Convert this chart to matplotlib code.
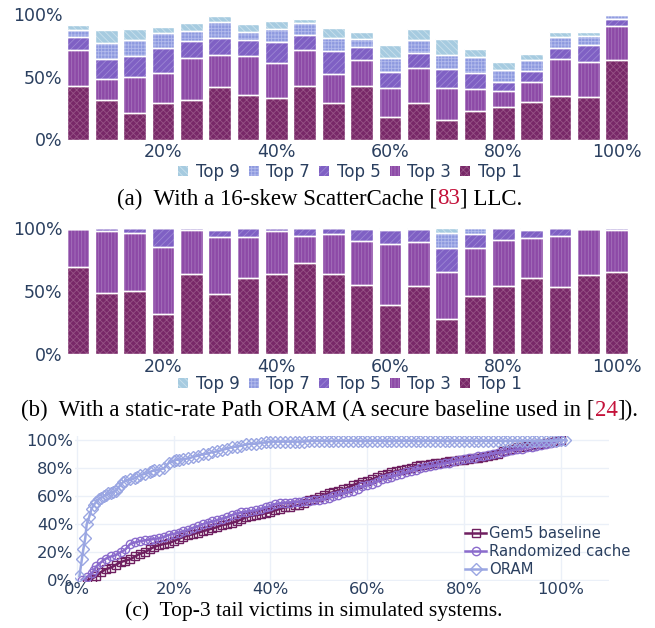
import numpy as np
import matplotlib
matplotlib.use("Agg")
import matplotlib.pyplot as plt
from matplotlib.patches import Patch

# ---------------- data ----------------
bar_x = [5, 10, 15, 20, 25, 30, 35, 40, 45, 50, 55, 60, 65, 70, 75, 80, 85, 90, 95, 100]
series_names = ["Top 1", "Top 3", "Top 5", "Top 7", "Top 9"]

# (a) ScatterCache, cumulative share covered by top-k victims (%)
a_top1 = [42.5, 31.1, 21.1, 29.0, 31.1, 41.4, 35.4, 33.2, 42.5, 29.0, 42.2, 17.7, 29.0, 15.6, 22.7, 25.6, 29.8, 34.6, 33.8, 63.0]
a_top3 = [70.7, 47.8, 49.6, 53.0, 64.4, 67.0, 66.0, 61.0, 71.0, 52.0, 63.0, 40.6, 56.5, 40.9, 39.8, 38.8, 45.6, 63.6, 61.5, 90.0]
a_top5 = [81.0, 63.9, 66.2, 73.0, 78.4, 80.5, 78.9, 77.3, 82.8, 70.4, 73.6, 53.3, 68.3, 55.9, 52.5, 45.4, 54.4, 72.3, 74.7, 95.3]
a_top7 = [87.0, 77.0, 78.6, 84.2, 86.3, 92.9, 85.0, 88.1, 92.6, 80.2, 79.4, 64.4, 78.9, 67.0, 65.2, 54.9, 63.0, 81.0, 82.3, 98.7]
a_top9 = [90.8, 87.0, 87.9, 89.4, 92.1, 98.4, 91.3, 94.2, 96.0, 88.7, 85.5, 74.7, 87.6, 79.7, 72.0, 61.2, 68.1, 85.0, 85.0, 98.8]

# (b) Path ORAM, cumulative share (%)
b_top1 = [69.3, 48.7, 50.0, 32.3, 63.5, 47.9, 60.6, 63.8, 72.2, 63.8, 54.8, 39.4, 54.2, 27.8, 46.3, 54.2, 60.3, 53.2, 63.2, 65.3]
b_top3 = [99.5, 97.9, 96.0, 85.2, 98.4, 93.1, 92.9, 97.9, 93.9, 95.2, 90.2, 87.3, 88.9, 65.3, 84.4, 90.5, 92.6, 93.7, 99.6, 98.4]
b_top5 = [99.5, 99.9, 99.9, 99.9, 99.9, 98.7, 99.9, 99.9, 99.9, 99.9, 99.6, 99.0, 99.3, 84.1, 95.5, 99.9, 98.7, 99.9, 99.7, 99.9]
b_top7 = [99.5, 100, 100, 100, 100, 99.6, 100, 100, 100, 100, 100, 99.7, 99.8, 96.0, 100, 100, 99.8, 100, 99.8, 100]
b_top9 = [99.5, 100, 100, 100, 100, 100, 100, 100, 100, 100, 100, 100, 100, 100, 100, 100, 100, 100, 100, 100]

# (c) Top-3 tail victims CDF (%)
gem5_x = list(range(2, 101))
gem5_y = [0, 1, 3, 6, 8, 9, 11, 13, 14, 15, 17, 19, 20, 22, 24, 25, 26, 26.5, 28, 29.5,
          31, 32, 33, 34, 35, 36, 37, 38, 39.5, 40, 41, 42, 43.5, 45, 46, 46.5, 47, 48, 48.5, 50,
          51, 52, 52.5, 53.5, 54, 55, 57, 58, 59.5, 61, 62, 63, 64, 65, 66, 68, 69, 70, 71, 72,
          73.5, 75, 76, 77, 78, 78.5, 79.5, 80.5, 81.5, 82, 82.5, 83, 83.5, 84, 84.5, 85, 85.5, 86, 86, 86.5,
          87, 87.5, 88, 88.5, 89.5, 90.5, 92, 93, 94, 95, 95.5, 96, 96.5, 97, 97, 98, 98.5, 99.5, 100]
rand_x = [1, 2, 3, 3.5] + list(range(4, 101))
rand_y = [0.5, 2, 5, 7, 10, 13, 15.5, 17, 18, 20, 22, 26, 27, 28, 28.5, 29, 29.5, 30, 31, 32.5,
          33, 34, 35, 36, 37.5, 38.5, 40, 41, 42, 43, 44, 45, 46.5, 47.5, 48.5, 49, 49.5, 50, 51, 52,
          53, 54.5, 55, 55.5, 55.5, 56, 56, 56.5, 56.5, 57, 57, 58, 59, 60, 61, 62, 63, 64, 65.5, 67,
          68, 69, 70.5, 72, 73, 74, 75, 76, 77, 78, 79, 80, 81, 81.5, 82, 83, 83.5, 84, 85, 86,
          86.5, 87, 87.5, 88.5, 89, 89.5, 90.5, 91, 91.5, 92, 93, 93.5, 94, 95, 95.5, 96, 96.5, 97, 98, 99, 100]
oram_x = [0.5, 1.0, 1.3, 1.7, 2.0, 2.5, 3.0, 3.5, 4.0, 4.5, 5.0, 5.5, 6.0, 6.5, 7.0, 7.5, 8.0, 8.5, 9.0, 9.5,
          10, 11, 12, 12.5, 13, 14, 15, 15.5, 16, 17, 18, 19, 20, 20.5, 21, 22, 23, 24, 25, 26,
          27, 28, 29, 30, 31, 32, 33, 34, 35, 36, 37, 38, 39, 40, 41, 42, 43, 44, 45, 46,
          47, 48, 49, 50, 51, 52, 53, 54, 55, 56, 57, 58, 59, 60, 61, 62, 63, 64, 65, 66,
          67, 68, 69, 70, 71, 72, 73, 74, 75, 76, 77, 78, 79, 80, 81, 82, 83, 84, 85, 86,
          87, 88, 89, 90, 91, 92, 93, 94, 95, 96, 97, 98, 99, 100, 101]
oram_y = [3, 15, 22, 30, 40, 45, 51, 54, 56, 58, 59, 60, 61, 62, 62.5, 63, 64, 66, 68, 70,
          71, 72, 73, 74, 75, 76, 77, 78, 78.5, 79, 80, 84, 85, 86, 86, 86.5, 87, 88, 89, 90,
          90.5, 91.5, 92, 93, 94, 95, 95.5, 96, 97, 97.5, 97.5, 98, 98.5, 99, 99, 99, 99, 99, 99, 99,
          99, 99.5, 99.5, 99.5, 99.5, 99.5, 99.5, 99.5, 99.5, 99.5, 99.5, 99.5, 99.5, 99.5, 99.5, 99.5, 99.5, 99.5, 99.5, 99.5,
          99.5, 99.5, 99.5, 99.5, 99.5, 99.5, 99.5, 99.5, 99.5, 99.5, 99.5, 99.5, 99.5, 99.5, 99.5, 99.5, 99.5, 99.5, 99.5, 99.5,
          99.5, 99.5, 99.5, 99.5, 99.5, 99.5, 99.5, 99.5, 99.5, 99.5, 99.5, 99.5, 99.5, 100, 100]

x_ticks = [20, 40, 60, 80, 100]
x_ticks_c = [0, 20, 40, 60, 80, 100]
y_ticks_ab = [0, 50, 100]
y_ticks_c = [0, 20, 40, 60, 80, 100]

# ---------------- style ----------------
W, H = 655, 628
TICK = "#2a3f5f"
face_cols = ["#782868", "#8d4aa7", "#7f60c4", "#8d99df", "#a6cbe0"]
hatch_cols = ["#965285", "#a674bc", "#9c86d3", "#b3bbec", "#c9e0ec"]
hatches = ["xxxxx", "|||||", "/////", "+++++", "\\\\\\\\\\"]
plt.rcParams["hatch.linewidth"] = 0.6
plt.rcParams["font.family"] = "DejaVu Sans"

fig = plt.figure(figsize=(W / 100, H / 100), dpi=100)


def px_axes(l, t, r, b):
    return fig.add_axes([l / W, 1 - b / H, (r - l) / W, (b - t) / H])


def pct(v):
    return f"{int(v)}%"


def bar_panel(ax, cum_series, legend_y):
    cum = np.array(cum_series, dtype=float)
    prev = np.zeros(len(bar_x))
    for i, name in enumerate(series_names):
        seg = np.clip(cum[i] - prev, 0, None)
        ax.bar(bar_x, seg, width=4, bottom=prev, color=face_cols[i], hatch=hatches[i],
               edgecolor=hatch_cols[i], linewidth=0, zorder=2)
        ax.bar(bar_x, seg, width=4, bottom=prev, fill=False, edgecolor="white",
               linewidth=1.0, zorder=3)
        prev = np.maximum(prev, cum[i])
    ax.set_xlim(2.5, 102.5)
    ax.set_ylim(0, 104)
    ax.set_xticks(x_ticks)
    ax.set_xticklabels([pct(v) for v in x_ticks])
    ax.set_yticks(y_ticks_ab)
    ax.set_yticklabels([pct(v) for v in y_ticks_ab])
    ax.tick_params(axis="both", length=0, labelsize=12.5, colors=TICK)
    ax.tick_params(axis="x", pad=2.5)
    ax.tick_params(axis="y", pad=1)
    for s in ax.spines.values():
        s.set_visible(False)
    handles = [Patch(facecolor=face_cols[i], hatch=hatches[i], edgecolor=hatch_cols[i],
                     linewidth=0, label=series_names[i]) for i in range(4, -1, -1)]
    fig.legend(handles=handles, loc="center", bbox_to_anchor=(350 / W, 1 - legend_y / H),
               ncol=5, frameon=False, fontsize=12, handlelength=0.6, handleheight=0.6,
               handletextpad=0.45, columnspacing=0.55, labelcolor=TICK)


ax_a = px_axes(63.7, 8.5, 631, 139.5)
bar_panel(ax_a, [a_top1, a_top3, a_top5, a_top7, a_top9], 172)
ax_b = px_axes(63.7, 223.3, 631, 354.3)
bar_panel(ax_b, [b_top1, b_top3, b_top5, b_top7, b_top9], 384)

# ---------------- (c) ----------------
ax_c = px_axes(74.6, 436, 609, 581)
line_cols = ["#6f1f60", "#8b6bcc", "#9aa6e2"]
ax_c.plot(gem5_x, gem5_y, color=line_cols[0], lw=1.8, marker="s", ms=6, mfc="none",
          mec=line_cols[0], mew=1.0, label="Gem5 baseline", zorder=3)
ax_c.plot(rand_x, rand_y, color=line_cols[1], lw=1.8, marker="o", ms=6, mfc="none",
          mec=line_cols[1], mew=1.0, label="Randomized cache", zorder=4)
ax_c.plot(oram_x, oram_y, color=line_cols[2], lw=1.8, marker="D", ms=6, mfc="none",
          mec=line_cols[2], mew=1.0, label="ORAM", zorder=5)
ax_c.set_xlim(-0.5, 110)
ax_c.set_ylim(-0.5, 103)
ax_c.set_xticks(x_ticks_c)
ax_c.set_xticklabels([pct(v) for v in x_ticks_c])
ax_c.set_yticks(y_ticks_c)
ax_c.set_yticklabels([pct(v) for v in y_ticks_c])
ax_c.tick_params(axis="both", length=0, labelsize=11.8, colors=TICK)
ax_c.tick_params(axis="x", pad=1)
ax_c.tick_params(axis="y", pad=1)
ax_c.grid(True, color="#EBF0F8", lw=1.0, zorder=0)
ax_c.set_axisbelow(True)
for s in ax_c.spines.values():
    s.set_visible(False)
ax_c.legend(loc="upper left", bbox_to_anchor=(458 / W, 1 - 519 / H),
            bbox_transform=fig.transFigure, frameon=False, fontsize=10.7,
            handlelength=1.4, handletextpad=0.2, labelspacing=0.2, borderpad=0,
            labelcolor=TICK)

# ---------------- captions ----------------
renderer = fig.canvas.get_renderer()


def caption(pieces, cx, cy, size=16.5):
    texts = []
    for s, c in pieces:
        t = fig.text(0, 1 - cy / H, s, color=c, fontsize=size, family="Liberation Serif",
                     va="center", ha="left")
        texts.append(t)
    widths = [t.get_window_extent(renderer).width for t in texts]
    x = cx - sum(widths) / 2
    for t, w in zip(texts, widths):
        t.set_position((x / W, 1 - cy / H))
        x += w


RED = "#c4123a"
caption([("(a)  With a 16-skew ScatterCache [", "black"), ("83", RED), ("] LLC.", "black")], 320, 199)
caption([("(b)  With a static-rate Path ORAM (A secure baseline used in [", "black"), ("24", RED),
         ("]).", "black")], 330, 410)
caption([("(c)  Top-3 tail victims in simulated systems.", "black")], 314, 611, size=15.5)

fig.savefig("out.png", dpi=100)
